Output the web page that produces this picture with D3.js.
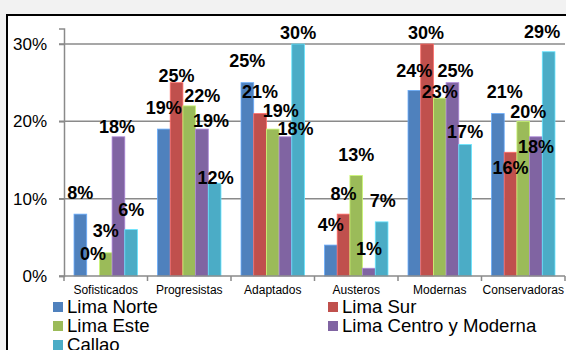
<!DOCTYPE html>
<html>
<head>
<meta charset="utf-8">
<script src="https://cdn.jsdelivr.net/npm/d3@7"></script>
<style>
  html, body { margin: 0; padding: 0; background: #f2f2f2; }
  svg { display: block; }
  text { font-family: "Liberation Sans", Arial, sans-serif; }
</style>
</head>
<body>
<svg id="chart" width="566" height="350"></svg>
<script>
// Segments (categories) and regional series
const categories = ["Sofisticados", "Progresistas", "Adaptados", "Austeros", "Modernas", "Conservadoras"];
const seriesNames = ["Lima Norte", "Lima Sur", "Lima Este", "Lima Centro y Moderna", "Callao"];
const seriesColors = ["#4f81bd", "#c0504d", "#9bbb59", "#8064a2", "#4bacc6"];

// Percent values per region, one entry per segment
const limaNorte  = [8, 19, 25, 4, 24, 21];
const limaSur    = [0, 25, 21, 8, 30, 16];
const limaEste   = [3, 22, 19, 13, 23, 20];
const limaCentro = [18, 19, 18, 1, 25, 18];
const callao     = [6, 12, 30, 7, 17, 29];
const seriesValues = [limaNorte, limaSur, limaEste, limaCentro, callao];

const yTicks = [0, 10, 20, 30];
const yTickLabels = ["0%", "10%", "20%", "30%"];

// Hand-placed data label nudges: [dx, lift above bar top], per segment and region
const labelNudge = [
  [[0, 22], [0, 22.5], [0, 22], [-1.5, 10], [0, 20.5]],
  [[0, 21.5], [0, 7], [13, 10], [9, 8.5], [1, 6]],
  [[0, 22], [0, 22], [8, 19], [10, 8], [0, 12]],
  [[0, 21], [0, 20.5], [0, 20.5], [0, 20], [1, 21]],
  [[0, 20], [-1, 12], [0, 6.5], [3, 12.5], [0, 13]],
  [[7, 22], [0, -15], [5, 10], [0, -10], [-6.5, 20]]
];

const svg = d3.select("#chart");

// Chart frame
svg.append("rect")
  .attr("x", 7).attr("y", 15).attr("width", 580).attr("height", 360)
  .attr("fill", "#ffffff").attr("stroke", "#000").attr("stroke-width", 2);

const plotLeft = 64, plotRight = 565, plotBottom = 276;
const y = d3.scaleLinear().domain([0, 32]).range([plotBottom, plotBottom - 32 * 7.733]);
const x = d3.scaleBand().domain(categories).range([plotLeft, plotRight])
  .paddingInner(0.24).paddingOuter(0.12);
const xs = d3.scaleBand().domain(d3.range(seriesNames.length)).range([0, x.bandwidth()]);

// Gridlines
svg.append("g").selectAll("line").data(yTicks.filter(t => t > 0)).join("line")
  .attr("x1", plotLeft - 5).attr("x2", plotRight)
  .attr("y1", d => y(d)).attr("y2", d => y(d))
  .attr("stroke", "#8a8a8a").attr("stroke-width", 1.5);

// Y axis
const yAxis = svg.append("g").attr("transform", `translate(${plotLeft},0)`)
  .call(d3.axisLeft(y).tickValues(yTicks).tickFormat((d, i) => yTickLabels[i]).tickSize(5).tickPadding(12));
yAxis.select(".domain").attr("stroke", "#8a8a8a").attr("stroke-width", 1.5);
yAxis.selectAll(".tick line").attr("stroke", "#8a8a8a").attr("stroke-width", 1.5);
yAxis.selectAll(".tick text").attr("font-size", 17).attr("fill", "#000")
  .attr("font-family", "Liberation Sans, Arial, sans-serif");

// Bars
const flat = [];
categories.forEach((c, ci) => seriesValues.forEach((vals, si) => {
  flat.push({ c, ci, si, v: vals[ci] });
}));

svg.append("g").selectAll("rect").data(flat).join("rect")
  .attr("x", d => x(d.c) + xs(d.si))
  .attr("y", d => y(d.v))
  .attr("width", xs.bandwidth())
  .attr("height", d => y(0) - y(d.v))
  .attr("fill", d => seriesColors[d.si])
  .attr("stroke", d => d3.color(seriesColors[d.si]).brighter(0.8))
  .attr("stroke-width", 0.8);

// X axis
const xAxisG = svg.append("g");
xAxisG.append("line")
  .attr("x1", plotLeft - 5).attr("x2", plotRight)
  .attr("y1", plotBottom).attr("y2", plotBottom)
  .attr("stroke", "#8a8a8a").attr("stroke-width", 1.5);
const step = x.step();
xAxisG.selectAll("line.tick").data(d3.range(categories.length + 1)).join("line")
  .attr("class", "tick")
  .attr("x1", i => plotLeft + i * step).attr("x2", i => plotLeft + i * step)
  .attr("y1", plotBottom).attr("y2", plotBottom + 5)
  .attr("stroke", "#8a8a8a").attr("stroke-width", 1.5);
xAxisG.selectAll("text").data(categories).join("text")
  .attr("x", d => x(d) + x.bandwidth() / 2)
  .attr("y", 294)
  .attr("text-anchor", "middle")
  .attr("font-size", 12)
  .attr("fill", "#000")
  .text(d => d);

// Data labels
svg.append("g").selectAll("text").data(flat).join("text")
  .attr("x", d => x(d.c) + xs(d.si) + xs.bandwidth() / 2 + labelNudge[d.ci][d.si][0])
  .attr("y", d => y(d.v) - labelNudge[d.ci][d.si][1] + 6.5)
  .attr("text-anchor", "middle")
  .attr("font-size", 18)
  .attr("font-weight", "bold")
  .attr("fill", "#000")
  .text(d => d.v + "%");

// Legend, two columns (third row runs past the bottom edge)
const legend = svg.append("g");
const legendItems = seriesNames.map((name, i) => ({
  name, color: seriesColors[i],
  col: i % 2, row: Math.floor(i / 2)
}));
const colX = [53, 328];
const item = legend.selectAll("g").data(legendItems).join("g")
  .attr("transform", d => `translate(${colX[d.col]},${313 + d.row * 19})`);
item.append("rect")
  .attr("x", 0).attr("y", -11).attr("width", 10).attr("height", 10)
  .attr("fill", d => d.color);
item.append("text")
  .attr("x", 14).attr("y", 0)
  .attr("font-size", 18.6)
  .attr("fill", "#000")
  .text(d => d.name);
</script>
</body>
</html>
